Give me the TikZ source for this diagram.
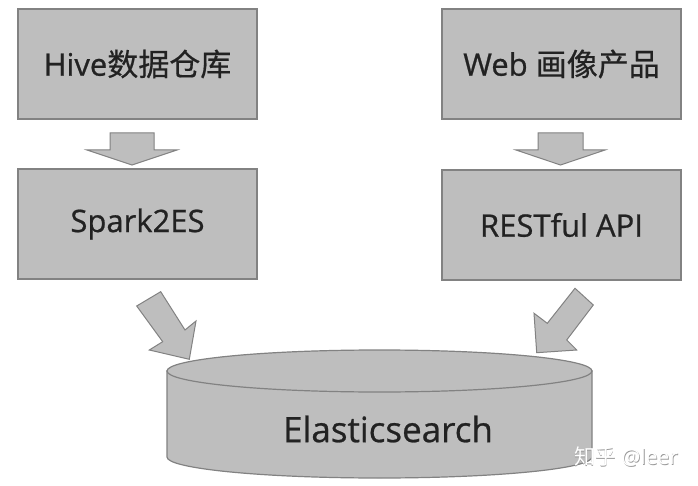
\documentclass[tikz,border=0pt]{standalone}
\usepackage{fontspec}
\setmainfont{Open Sans}[FakeBold=0.7]
\newfontfamily\cjk{Noto Sans CJK SC}[FakeBold=0.5]
\newfontfamily\wmfont{Open Sans}
\newfontfamily\wmcjk{Noto Sans CJK SC}
\definecolor{boxfill}{RGB}{190,190,190}
\definecolor{boxline}{RGB}{130,130,130}
\definecolor{txt}{RGB}{34,34,34}
\begin{document}
\begin{tikzpicture}[x=1pt,y=-1pt,
  box/.style={draw=boxline,fill=boxfill,line width=1.3pt,minimum width=239pt,minimum height=110pt,inner sep=0pt,
    font=\fontsize{31}{36}\selectfont,text=txt},
  blockarrow/.style={draw=boxline,fill=boxfill,line width=1pt,line join=miter},
  cyl/.style={draw=boxline,fill=boxfill,line width=1.2pt}]
\useasboundingbox (0,0) rectangle (698,486);
\fill[white] (0,0) rectangle (698,486);
% boxes
\node[box] (hive) at (137.5,64) {Hive{\cjk 数据仓库}};
\node[box] (spark) at (137.5,224) {Spark2ES};
\node[box] (web) at (561.5,64) {Web {\cjk 画像产品}};
\node[box] (rest) at (561.5,225) {RESTful API};
% down block arrows
\draw[blockarrow] (110,133) -- (154,133) -- (154,150) -- (177,150) -- (132,165) -- (87,150) -- (110,150) -- cycle;
\draw[blockarrow] (538,133) -- (583,133) -- (583,150) -- (605,150) -- (560.5,165) -- (516,150) -- (538,150) -- cycle;
% cylinder
\draw[cyl] (167,371) -- (167,457) arc[start angle=180,end angle=0,x radius=212.5,y radius=21] -- (592,371) -- cycle;
\draw[cyl] (379.5,371) ellipse [x radius=212.5, y radius=21];
\node[font=\fontsize{35}{40}\selectfont,text=txt] (es) at (388,429) {Elasticsearch};
% diagonal block arrows
\draw[blockarrow] (136.7,306) -- (160.7,291.7) -- (185,330) -- (196,321) -- (189.3,359.3) -- (149.3,350) -- (162.7,341.7) -- cycle;
\draw[blockarrow] (575,288.3) -- (593.3,305) -- (566.7,340) -- (576.7,350) -- (536.7,352.7) -- (534,313.3) -- (547.3,323.3) -- cycle;
% watermark
\node[font=\wmfont\fontsize{21}{24}\selectfont,text=black!40] (wm0) at (626.8,457.8) {{\wmcjk 知乎} @leer};
\node[font=\wmfont\fontsize{21}{24}\selectfont,text=white] (wm) at (626,457) {{\wmcjk 知乎} @leer};
\end{tikzpicture}
\end{document}
